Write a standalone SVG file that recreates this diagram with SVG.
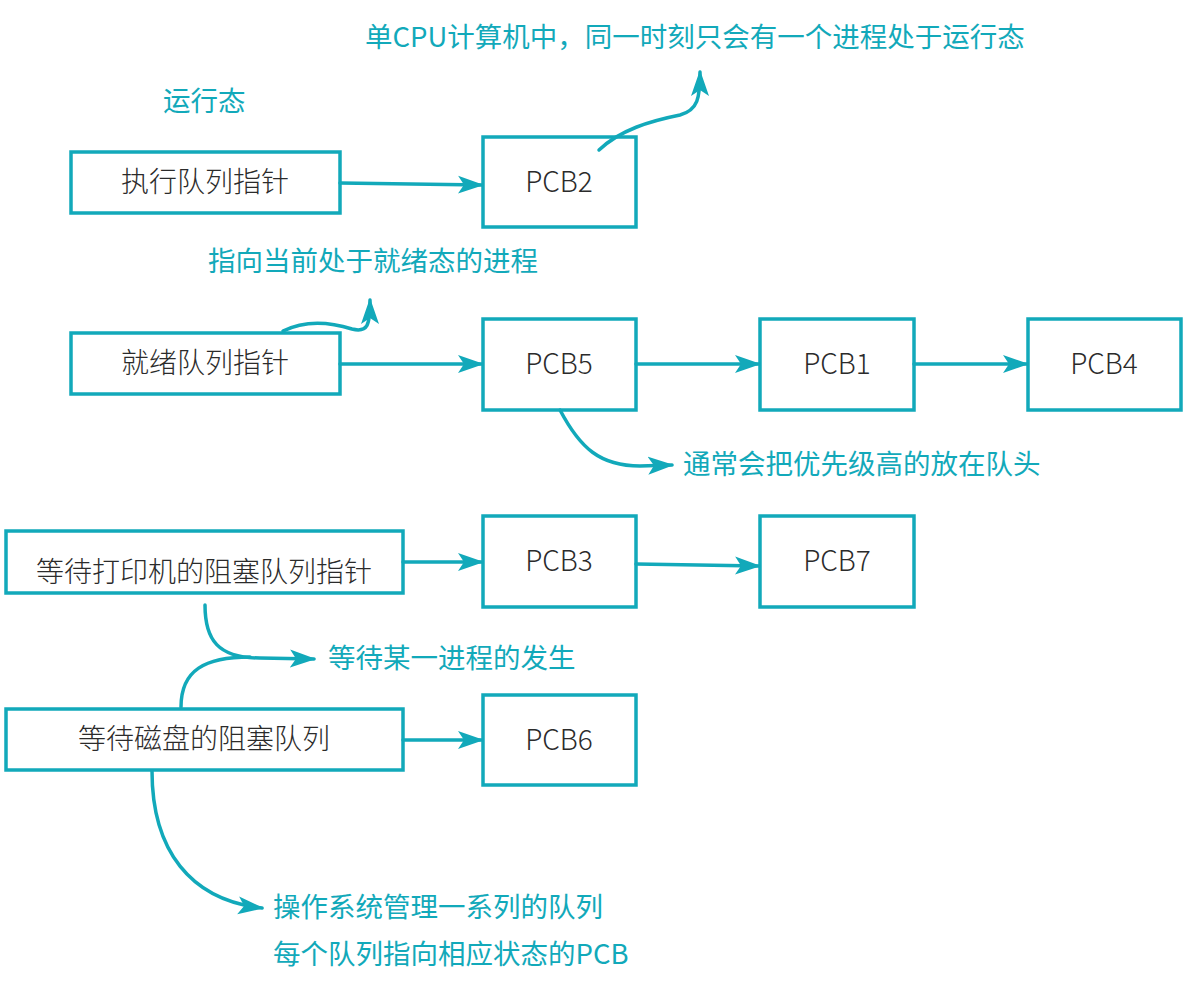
<svg xmlns="http://www.w3.org/2000/svg" width="1192" height="991" viewBox="0 0 1192 991">
<defs>
<style>
.box{fill:#fff;stroke:#12a9ba;stroke-width:3.5}
.bt{font-family:"Noto Sans CJK SC","Noto Sans",sans-serif;font-size:28px;font-weight:300;fill:#2b2b2b;text-anchor:middle;dominant-baseline:central}
.an{font-family:"Noto Sans CJK SC","Noto Sans",sans-serif;font-size:27.5px;fill:#12a9ba}
.c{fill:none;stroke:#12a9ba;stroke-width:3.5;stroke-linecap:round}
</style>
<marker id="ah" markerUnits="userSpaceOnUse" markerWidth="26" markerHeight="20" viewBox="0 0 26 20" refX="24" refY="10" orient="auto">
<path d="M0,1 L26,10 L0,19 L6,10 Z" fill="#12a9ba"/>
</marker>
</defs>
<rect width="1192" height="991" fill="#fff"/>

<g id="n-exec"><rect class="box" x="71" y="152" width="269" height="61"/><text class="bt" x="205" y="180">执行队列指针</text></g>
<g id="n-pcb2"><rect class="box" x="483" y="137" width="153" height="90"/><text class="bt" x="559" y="180">PCB2</text></g>
<g id="n-ready"><rect class="box" x="71" y="333" width="269" height="61"/><text class="bt" x="205" y="361">就绪队列指针</text></g>
<g id="n-pcb5"><rect class="box" x="483" y="319" width="153" height="91"/><text class="bt" x="559" y="362">PCB5</text></g>
<g id="n-pcb1"><rect class="box" x="760" y="319" width="154" height="91"/><text class="bt" x="837" y="362">PCB1</text></g>
<g id="n-pcb4"><rect class="box" x="1028" y="319" width="153" height="91"/><text class="bt" x="1104" y="362">PCB4</text></g>
<g id="n-printer"><rect class="box" x="6" y="531" width="397" height="62"/><text class="bt" x="204" y="570">等待打印机的阻塞队列指针</text></g>
<g id="n-pcb3"><rect class="box" x="483" y="516" width="153" height="91"/><text class="bt" x="559" y="559">PCB3</text></g>
<g id="n-pcb7"><rect class="box" x="760" y="516" width="154" height="91"/><text class="bt" x="837" y="559">PCB7</text></g>
<g id="n-disk"><rect class="box" x="6" y="709" width="397" height="61"/><text class="bt" x="204" y="737">等待磁盘的阻塞队列</text></g>
<g id="n-pcb6"><rect class="box" x="483" y="695" width="153" height="90"/><text class="bt" x="559" y="738">PCB6</text></g>

<g id="connectors">
<path class="c" d="M340,183 L482,185" marker-end="url(#ah)"/>
<path class="c" d="M340,364 L482,364" marker-end="url(#ah)"/>
<path class="c" d="M636,364 L759,364" marker-end="url(#ah)"/>
<path class="c" d="M914,364 L1027,364" marker-end="url(#ah)"/>
<path class="c" d="M403,562 L482,562" marker-end="url(#ah)"/>
<path class="c" d="M636,564 L759,566" marker-end="url(#ah)"/>
<path class="c" d="M403,740 L482,740" marker-end="url(#ah)"/>
<path class="c" d="M599,150 C620,130 650,121 680,115 C698,110 700,98 700,72" marker-end="url(#ah)"/>
<path class="c" d="M283,331 C305,320 330,322 352,329 C368,333 370,325 370,300" marker-end="url(#ah)"/>
<path class="c" d="M560,410 C580,448 600,466 640,466 L672,465" marker-end="url(#ah)"/>
<path class="c" d="M205,605 C205,640 218,658 260,658 L314,659" marker-end="url(#ah)"/>
<path class="c" d="M181,707 C181,670 205,657 250,657"/>
<path class="c" d="M152,771 C152,850 190,900 262,908" marker-end="url(#ah)"/>
</g>

<g id="annotations">
<text class="an" x="365" y="47">单CPU计算机中，同一时刻只会有一个进程处于运行态</text>
<text class="an" x="163" y="111">运行态</text>
<text class="an" x="208" y="271">指向当前处于就绪态的进程</text>
<text class="an" x="683" y="474">通常会把优先级高的放在队头</text>
<text class="an" x="328" y="668">等待某一进程的发生</text>
<text class="an" x="273" y="917">操作系统管理一系列的队列</text>
<text class="an" x="273" y="964">每个队列指向相应状态的PCB</text>
</g>
</svg>
